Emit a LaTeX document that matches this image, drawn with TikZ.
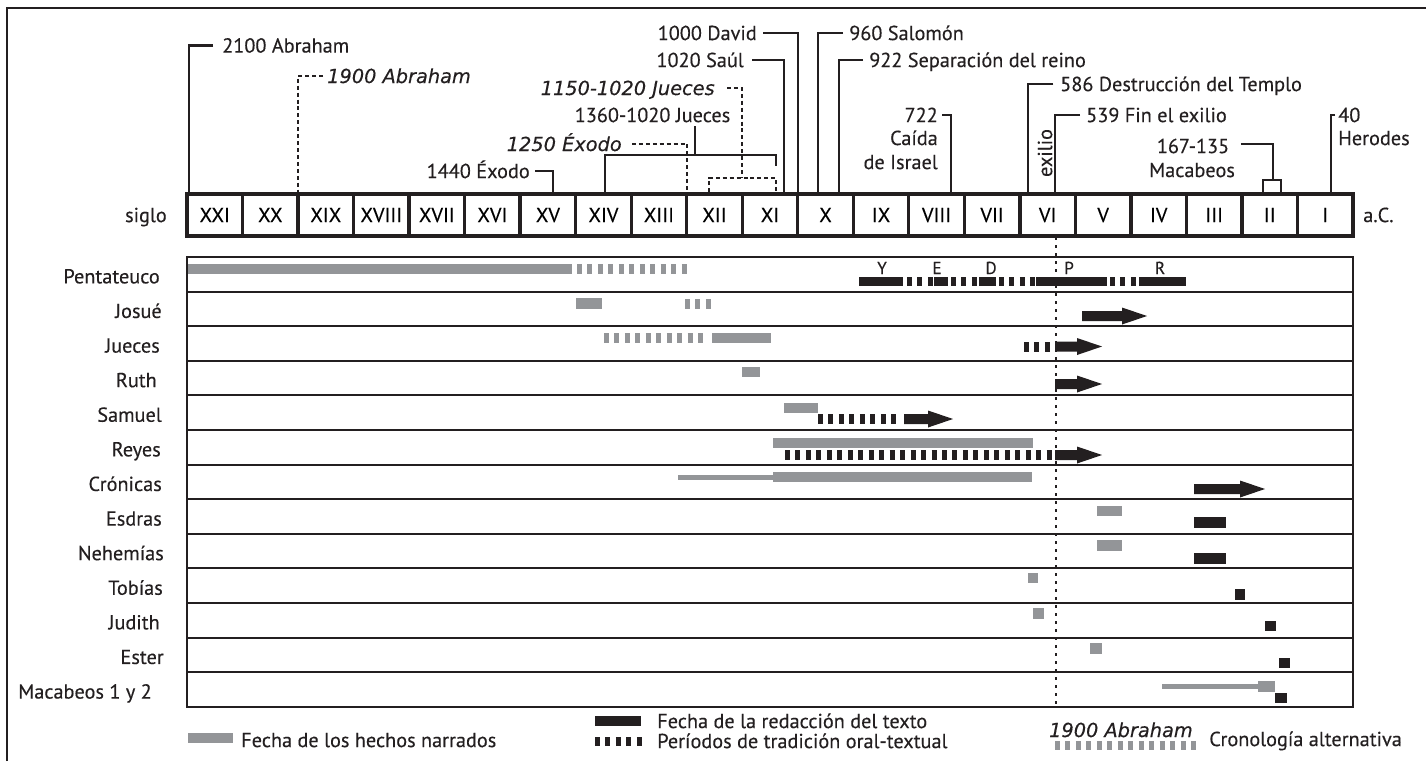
\documentclass[tikz,border=0pt]{standalone}
\usepackage{fontspec}
\setmainfont{PT Sans}[FakeBold=0.25]
\newfontfamily\itf{DejaVu Sans}[FakeBold=0.3]
\definecolor{gy}{HTML}{939598}
\definecolor{bk}{HTML}{231F20}
\tikzset{
  lbl/.style={font=\fontsize{15.2}{17}\selectfont, inner sep=0pt, text height=10.6pt, text depth=0pt, text=bk},
  ilbl/.style={font=\itf\itshape\fontsize{14.5}{16}\selectfont, inner sep=0pt, text height=10.5pt, text depth=0pt, text=bk},
  slbl/.style={font=\fontsize{13}{15}\selectfont, inner sep=0pt, text height=9pt, text depth=0pt, text=bk},
  ann/.style={draw=bk, line width=2.2pt},
  annd/.style={draw=bk, line width=2.1pt, dash pattern=on 3pt off 2.2pt},
  cbox/.style={draw=bk, line width=2.5pt, minimum width=41.64pt, minimum height=31.5pt, inner sep=0pt, font=\fontsize{15.2}{17}\selectfont, text height=10.6pt, text depth=0pt},
  rowbox/.style={draw=bk, line width=1.6pt, minimum width=874.5pt, minimum height=25.95pt, inner sep=0pt},
  gdash/.style={draw=gy, line width=7.5pt, dash pattern=on 3.75pt off 4.1pt},
  bdash/.style={draw=bk, line width=7.5pt, dash pattern=on 3.75pt off 4.1pt},
  dotl/.style={draw=bk, line width=2.1pt, dash pattern=on 1.9pt off 4.1pt},
}
\newcommand\barrow[3]{%
  \fill[bk] (#1,#3-5) -- (#2-25,#3-5) -- (#2-25,#3-8.5) -- (#2,#3) -- (#2-25,#3+8.5) -- (#2-25,#3+5) -- (#1,#3+5) -- cycle;}
\begin{document}
\begin{tikzpicture}[x=0.75pt,y=-0.75pt]
\useasboundingbox (0,0) rectangle (1426,761);
% frame
\draw[bk, line width=2.1pt] (7,761) -- (7,8) -- (1426,8);

% century boxes
\foreach \r [count=\i from 0] in {XXI,XX,XIX,XVIII,XVII,XVI,XV,XIV,XIII,XII,XI,X,IX,VIII,VII,VI,V,IV,III,II,I} {
  \node[cbox] (c\i) at ({187+55.524*(\i+0.5)},215) {\r};
}
\node[lbl, anchor=east] (siglo) at (167,215) {siglo};
\node[lbl, anchor=west] (aC) at (1363,215) {a.C.};

% rows
\foreach \n/\xe [count=\i from 0] in {Pentateuco/160,Josué/162,Jueces/160,Ruth/157,Samuel/162,Reyes/161,Crónicas/162,Esdras/162,Nehemías/164,Tobías/163,Judith/160,Ester/164,Macabeos 1 y 2/152} {
  \node[rowbox] (r\i) at (770,{257+34.6*(\i+0.5)}) {};
  \node[lbl, anchor=east] (l\i) at (\xe,{259+34.6*(\i+0.5)}) {\n};
}

% dotted exile line
\coordinate (dtop) at (1056,237);
\coordinate (dbot) at (1056,707);
\draw[dotl] (dtop) -- (dbot);

% ---- top annotations ----
\node[lbl, anchor=west] (t2100) at (222,45.5) {2100 Abraham};
\coordinate (k2100) at (189,194);
\draw[ann] ([xshift=-6.75pt]t2100.west) -| (k2100);

\node[ilbl, anchor=west] (t1900) at (327,76) {1900 Abraham};
\coordinate (k1900) at (298,194);
\draw[annd] ([xshift=-3pt]t1900.west) -| (k1900);

\node[lbl, anchor=east] (t1440) at (530,171) {1440 Éxodo};
\coordinate (k1440) at (553,194);
\draw[ann] ([xshift=3.75pt]t1440.east) -| (k1440);

\node[ilbl, anchor=east] (t1250) at (622,144) {1250 Éxodo};
\coordinate (k1250) at (687,194);
\draw[annd] ([xshift=7.5pt]t1250.east) -| (k1250);

\node[lbl] (t1360) at (652.5,115) {1360-1020 Jueces};
\coordinate (k1360a) at (605,194);
\coordinate (k1360m) at (695,155);
\coordinate (k1360b) at (776,166);
\draw[ann] ([yshift=-3pt]t1360.south -| k1360m) -- (k1360m);
\draw[ann] (k1360a) |- (k1360m) -| (k1360b);

\node[ilbl, anchor=east] (t1150) at (715,88) {1150-1020 Jueces};
\coordinate (k1150m) at (742,178);
\coordinate (k1150a) at (709,192);
\coordinate (k1150b) at (776,192);
\draw[annd] ([xshift=9pt]t1150.east) -| (k1150m);
\draw[annd] (k1150a) |- (k1150m) -| (k1150b);

\node[lbl, anchor=east] (tSaul) at (744,60) {1020 Saúl};
\coordinate (kSaul) at (784,194);
\draw[ann] ([xshift=6pt]tSaul.east) -| (kSaul);

\node[lbl, anchor=east] (tDavid) at (757,33) {1000 David};
\coordinate (kDavid) at (798,194);
\draw[ann] ([xshift=4.5pt]tDavid.east) -| (kDavid);

\node[lbl, anchor=west] (tSal) at (849,33) {960 Salomón};
\coordinate (kSal) at (818,194);
\draw[ann] ([xshift=-4.5pt]tSal.west) -| (kSal);

\node[lbl, anchor=west] (tSep) at (869,60) {922 Separación del reino};
\coordinate (kSep) at (839,194);
\draw[ann] ([xshift=-4.5pt]tSep.west) -| (kSep);

\node[lbl, anchor=east] (t722) at (938,115) {722};
\node[lbl, anchor=east] (tCai) at (938,138) {Caída};
\node[lbl, anchor=east] (tIsr) at (938,162) {de Israel};
\coordinate (k722) at (951,194);
\draw[ann] ([xshift=3pt]t722.east) -| (k722);

\node[lbl, anchor=west] (t586) at (1060,84) {586 Destrucción del Templo};
\coordinate (k586) at (1028,194);
\draw[ann] ([xshift=-5pt]t586.west) -| (k586);

\node[lbl, anchor=west] (t539) at (1086,115) {539 Fin el exilio};
\coordinate (k539) at (1055,194);
\draw[ann] ([xshift=-4.5pt]t539.west) -| (k539);

\node[lbl, rotate=90] (texi) at (1045,153) {exilio};

\node[lbl] (t167) at (1193,146) {167-135};
\node[lbl] (tMac) at (1192,170) {Macabeos};
\coordinate (k167m) at (1273,180);
\coordinate (k167a) at (1263,194);
\coordinate (k167b) at (1281,194);
\draw[ann] ([xshift=8.5pt]t167.east |- 0,144) -| (k167m);
\draw[ann] (k167a) |- (k167m) -| (k167b);

\node[lbl, anchor=west] (t40) at (1338,115) {40};
\node[lbl, anchor=west] (tHer) at (1338,138) {Herodes};
\coordinate (k40) at (1331,194);
\draw[ann] ([xshift=-2.25pt]t40.west) -| (k40);

% ---- bars ----
% Pentateuco
\fill[gy] (188,264) rectangle (572,274);
\draw[gdash] (577,269) -- (692,269);
\fill[bk] (859,277) rectangle (903,286);
\draw[bdash, line width=6.75pt] (907,281.5) -- (934,281.5);
\fill[bk] (934,277) rectangle (948,286);
\draw[bdash, line width=6.75pt] (951,281.5) -- (978,281.5);
\fill[bk] (979,277) rectangle (996,286);
\draw[bdash, line width=6.75pt] (999,281.5) -- (1035,281.5);
\fill[bk] (1036,277) rectangle (1107,286);
\draw[bdash, line width=6.75pt] (1110,281.5) -- (1138,281.5);
\fill[bk] (1139,277) rectangle (1186,286);
\node[slbl] (pY) at (882,268) {Y};
\node[slbl] (pE) at (937,268) {E};
\node[slbl] (pD) at (991,268) {D};
\node[slbl] (pP) at (1069,268) {P};
\node[slbl] (pR) at (1160,268) {R};
% Josue
\fill[gy] (576,298) rectangle (602,309);
\draw[gdash] (685,303.5) -- (712,303.5);
\barrow{1082}{1147}{316}
% Jueces
\draw[gdash] (604,338) -- (706,338);
\fill[gy] (712,333) rectangle (771,343);
\draw[bdash] (1024,346.5) -- (1052,346.5);
\barrow{1055}{1102}{346.5}
% Ruth
\fill[gy] (742,367) rectangle (760,377);
\barrow{1055}{1102}{384}
% Samuel
\fill[gy] (784,403) rectangle (818,413);
\draw[bdash] (818,419) -- (901,419);
\barrow{904}{953}{419}
% Reyes
\fill[gy] (773,438) rectangle (1033,448);
\draw[bdash] (785,455) -- (1052,455);
\barrow{1055}{1102}{455}
% Cronicas
\fill[gy] (678,475) rectangle (773,480);
\fill[gy] (773,472) rectangle (1032,482);
\barrow{1194}{1265}{489}
% Esdras
\fill[gy] (1097,506) rectangle (1122,516);
\fill[bk] (1194,517) rectangle (1226,528);
% Nehemias
\fill[gy] (1097,540) rectangle (1122,551);
\fill[bk] (1194,553) rectangle (1226,564);
% Tobias
\fill[gy] (1028,573) rectangle (1038,583);
\fill[bk] (1235,589) rectangle (1245,600);
% Judith
\fill[gy] (1033,608) rectangle (1044,619);
\fill[bk] (1265,621) rectangle (1276,631);
% Ester
\fill[gy] (1090,643) rectangle (1102,654);
\fill[bk] (1279,658) rectangle (1290,668);
% Macabeos
\fill[gy] (1162,684) rectangle (1258,689);
\fill[gy] (1258,681) rectangle (1275,692);
\fill[bk] (1275,693) rectangle (1287,703);

% ---- legend ----
\fill[gy] (188,733) rectangle (233,743);
\node[lbl, anchor=west] (lg1) at (241,740) {Fecha de los hechos narrados};
\fill[bk] (595,716) rectangle (641,726);
\node[lbl, anchor=west] (lg2) at (657,721) {Fecha de la redacción del texto};
\draw[bdash, line width=6.75pt] (595,741) -- (643,741);
\node[lbl, anchor=west] (lg3) at (657,741) {Períodos de tradición oral-textual};
\node[ilbl, anchor=east] (lg4) at (1193,730) {1900 Abraham};
\draw[gdash, line width=6.75pt] (1055,745) -- (1196,745);
\node[lbl, anchor=west] (lg5) at (1209,739) {Cronología alternativa};
\end{tikzpicture}
\end{document}
